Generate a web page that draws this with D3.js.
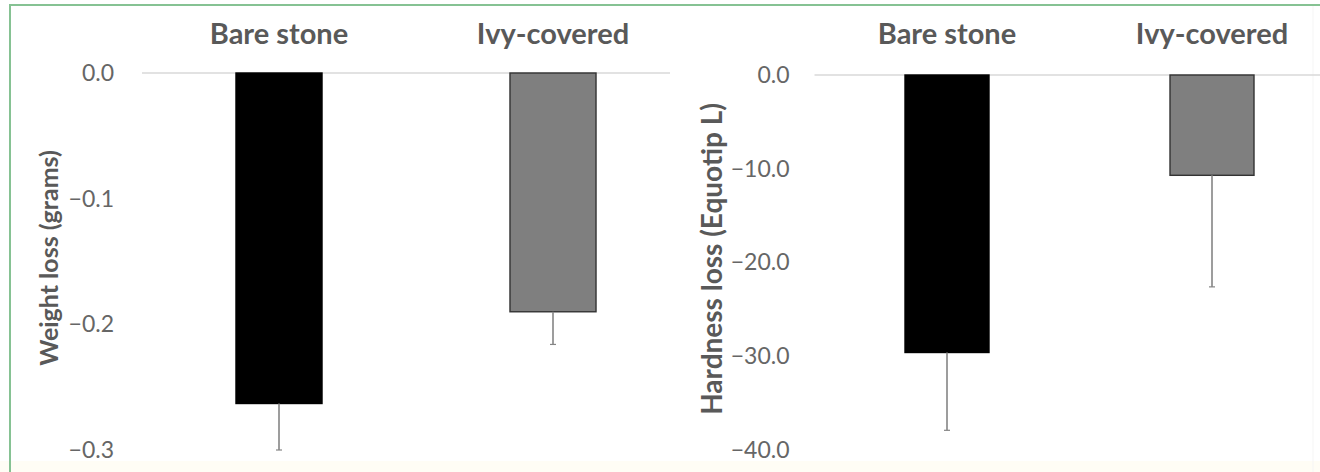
<!DOCTYPE html>
<html>
<head>
<meta charset="utf-8">
<script src="https://cdn.jsdelivr.net/npm/d3@7"></script>
<style>
  body { margin: 0; background: #fff; }
  svg { display: block; }
</style>
</head>
<body>
<svg id="chart" width="1320" height="472"></svg>
<script>
const categories = ["Bare stone", "Ivy-covered"];
const barColors = ["#000000", "#7f7f7f"];

const weightLoss = [-0.263, -0.190];
const weightErr = [0.037, 0.026];
const weightTicks = [0, -0.1, -0.2, -0.3];

const hardnessLoss = [-29.6, -10.7];
const hardnessErr = [8.3, 11.9];
const hardnessTicks = [0, -10, -20, -30, -40];

const svg = d3.select("#chart");
const W = 1320, H = 472;
const textColor = "#595959";
const font = "Lato, 'Open Sans', sans-serif";

// frame + bottom strip
svg.append("rect").attr("x", 0).attr("y", H - 11).attr("width", W).attr("height", 11).attr("fill", "#fffdf5");
svg.append("line").attr("x1", 10).attr("x2", 10).attr("y1", 4).attr("y2", H).attr("stroke", "#86c293").attr("stroke-width", 2);
svg.append("line").attr("x1", 9).attr("x2", W).attr("y1", 5).attr("y2", 5).attr("stroke", "#86c293").attr("stroke-width", 2);
svg.append("line").attr("x1", 1313).attr("x2", 1313).attr("y1", 6).attr("y2", H).attr("stroke", "#f5f5f5").attr("stroke-width", 1);

function drawPanel(opts) {
    const g = svg.append("g");
    if (opts.bg) {
        g.append("rect").attr("x", opts.bg[0]).attr("y", 8).attr("width", opts.bg[1] - opts.bg[0]).attr("height", H - 19).attr("fill", "#fff");
    }
    const x = d3.scaleBand().domain(categories).range(opts.xRange)
        .paddingInner(opts.pad).paddingOuter(opts.pad / 2);
    const y = d3.scaleLinear().domain(opts.domain).range(opts.yRange);

    // gridline at zero only
    g.append("line")
        .attr("x1", opts.xRange[0]).attr("x2", opts.gridEnd)
        .attr("y1", y(0)).attr("y2", y(0))
        .attr("stroke", "#d9d9d9").attr("stroke-width", 1.5);

    const yAxis = g.append("g").attr("transform", `translate(${opts.xRange[0]},0)`)
        .call(d3.axisLeft(y).tickValues(opts.ticks).tickFormat(d3.format(".1f")).tickSize(0).tickPadding(opts.tickPad));
    yAxis.select(".domain").remove();
    yAxis.selectAll("text").attr("fill", "#666").attr("font-family", font).attr("font-size", 23);

    // category labels on top
    g.selectAll(".cat").data(categories).enter().append("text")
        .attr("x", d => x(d) + x.bandwidth() / 2).attr("y", 44)
        .attr("text-anchor", "middle").attr("fill", textColor)
        .attr("font-family", font).attr("font-weight", "bold").attr("font-size", 29)
        .text(d => d);

    // bars
    g.selectAll(".bar").data(opts.values).enter().append("rect")
        .attr("x", (d, i) => x(categories[i]))
        .attr("width", x.bandwidth())
        .attr("y", y(0))
        .attr("height", d => y(d) - y(0))
        .attr("fill", (d, i) => barColors[i])
        .attr("stroke", (d, i) => i === 0 ? "#000" : "#333")
        .attr("stroke-width", 1.4);

    // minus error bars
    opts.values.forEach((v, i) => {
        const cx = x(categories[i]) + x.bandwidth() / 2;
        g.append("line").attr("x1", cx).attr("x2", cx)
            .attr("y1", y(v)).attr("y2", y(v - opts.errors[i]))
            .attr("stroke", "#858585").attr("stroke-width", 1.6);
        g.append("line").attr("x1", cx - 3).attr("x2", cx + 3)
            .attr("y1", y(v - opts.errors[i])).attr("y2", y(v - opts.errors[i]))
            .attr("stroke", "#858585").attr("stroke-width", 1.2);
    });

    // y title
    g.append("text")
        .attr("transform", `translate(${opts.titleX},${opts.titleY}) rotate(-90)`)
        .attr("text-anchor", "middle").attr("dominant-baseline", "central")
        .attr("fill", textColor).attr("font-family", font).attr("font-weight", "bold").attr("font-size", opts.titleSize)
        .text(opts.title);
}

drawPanel({
    xRange: [142, 690], pad: 0.686, gridEnd: 670,
    domain: [-0.3, 0], yRange: [450, 73], ticks: weightTicks, tickPad: 28,
    values: weightLoss, errors: weightErr,
    title: "Weight loss (grams)", titleX: 48, titleY: 258, titleSize: 25
});

drawPanel({
    bg: [670, 1312],
    xRange: [814.5, 1344.5], pad: 0.683, gridEnd: W,
    domain: [-40, 0], yRange: [450, 75], ticks: hardnessTicks, tickPad: 25,
    values: hardnessLoss, errors: hardnessErr,
    title: "Hardness loss (Equotip L)", titleX: 711, titleY: 259, titleSize: 28
});
</script>
</body>
</html>
